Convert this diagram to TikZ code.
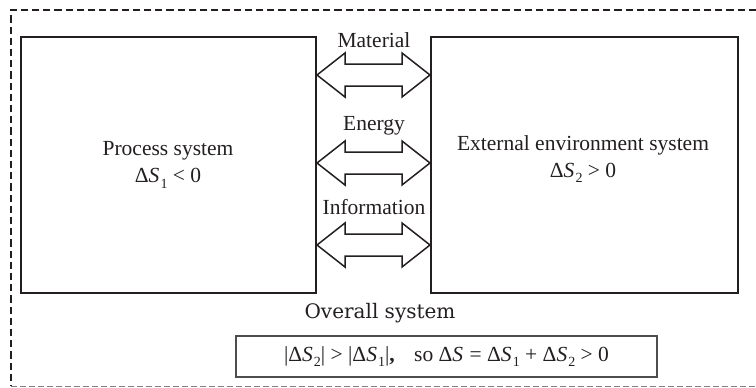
\documentclass[tikz,border=0pt]{standalone}
\usepackage{fontspec}
\setmainfont{Liberation Serif}
\newfontfamily\scholafont{DejaVu Serif}
\usetikzlibrary{calc}

\definecolor{ink}{RGB}{35,31,32}
\newcommand{\dS}[1]{Δ\textit{S}\kern0.05em\raisebox{-0.55ex}{\fontsize{7}{7}\selectfont #1}}

\begin{document}
\begin{tikzpicture}[x=0.5pt, y=-0.5pt,
  sysbox/.style={draw=ink, line width=1.35pt, inner sep=0pt},
  flowarrow/.style={draw=ink, line width=0.75pt, line join=miter},
  txt/.style={font=\fontsize{10.75}{13.5}\selectfont, text=ink, align=center, inner sep=0pt},
  frametop/.style={draw=ink, line width=1.4pt, dash pattern=on 3.6pt off 2pt},
  framelow/.style={draw=gray, line width=0.5pt, dash pattern=on 3pt off 1.5pt}]

  \useasboundingbox (0,0) rectangle (756,387);

  % Overall system frame (cut off at the right)
  \draw[frametop] (756,10) -- (11,10) -- (11,386);
  \draw[framelow] (11,386) -- (756,386);

  % Subsystems
  \node[sysbox, minimum width=147.5pt, minimum height=128pt] (proc) at (168.5,165) {};
  \node[sysbox, minimum width=153.5pt, minimum height=128pt] (env) at (584.5,165) {};
  \node[txt] (proctxt) at (168,165) {Process system\\\dS{1} < 0};
  \node[txt] (envtxt) at (583,159) {External environment system\\\dS{2} > 0};

  % Exchange arrows
  \foreach \yy/\lab/\ly [count=\k] in {75/Material/40, 163/Energy/126, 245/Information/207} {
    \coordinate (a\k) at (317,\yy);
    \coordinate (b\k) at (430,\yy);
    \draw[flowarrow] (a\k) -- ++(28,-22) -- ++(0,11) -- ($(b\k)+(-28,-11)$) -- ++(0,-11)
      -- (b\k) -- ++(-28,22) -- ++(0,-11) -- ($(a\k)+(28,11)$) -- ++(0,11) -- cycle;
    \node[txt] (lab\k) at (374,\ly) {\lab};
  }

  % Balance
  \node[txt, font=\scholafont\fontsize{10}{12}\selectfont] (overall) at (380,313) {Overall system};
  \node[draw=ink!80, line width=0.9pt, minimum width=210.5pt, minimum height=20.5pt] (sumbox) at (446.5,356.5) {};
  \node[txt] (sumtxt) at (sumbox) {|\dS{2}| > |\dS{1}|{\bfseries ,}\hspace{0.9em}so \dS{} = \dS{1} + \dS{2} > 0};

\end{tikzpicture}
\end{document}
